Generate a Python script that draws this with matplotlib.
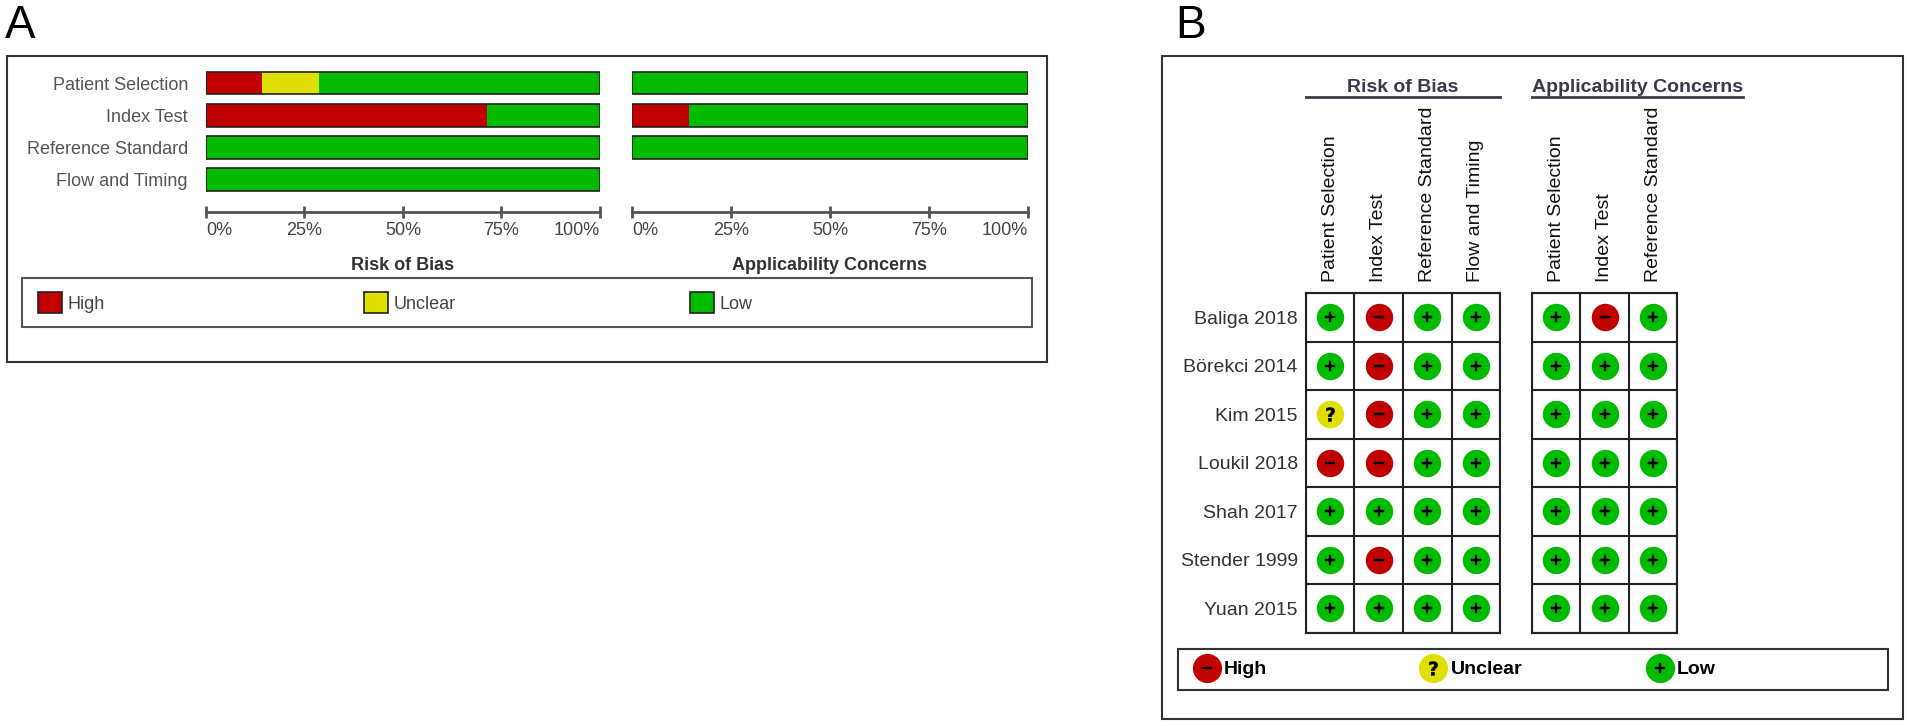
import matplotlib.pyplot as plt
import numpy as np
from matplotlib.patches import Patch, Rectangle
from matplotlib.lines import Line2D

plt.rcParams['font.family'] = ['Liberation Sans', 'DejaVu Sans']

# QUADAS-2 judgements, one row per study
studies = ['Baliga 2018', 'Börekci 2014', 'Kim 2015', 'Loukil 2018',
           'Shah 2017', 'Stender 1999', 'Yuan 2015']
rob_domains = ['Patient Selection', 'Index Test', 'Reference Standard', 'Flow and Timing']
app_domains = ['Patient Selection', 'Index Test', 'Reference Standard']
rob_judgements = [
    ['L', 'H', 'L', 'L'],
    ['L', 'H', 'L', 'L'],
    ['U', 'H', 'L', 'L'],
    ['H', 'H', 'L', 'L'],
    ['L', 'L', 'L', 'L'],
    ['L', 'H', 'L', 'L'],
    ['L', 'L', 'L', 'L'],
]
app_judgements = [
    ['L', 'H', 'L'],
    ['L', 'L', 'L'],
    ['L', 'L', 'L'],
    ['L', 'L', 'L'],
    ['L', 'L', 'L'],
    ['L', 'L', 'L'],
    ['L', 'L', 'L'],
]
level_codes = ['H', 'U', 'L']
level_names = ['High', 'Unclear', 'Low']
pct_ticks = [0, 25, 50, 75, 100]

colors = {'H': '#c00000', 'U': '#e0e000', 'L': '#00bb00'}
symbols = {'H': r'$\mathbf{-}$', 'U': r'$\mathbf{?}$', 'L': r'$\mathbf{+}$'}
sym_size = {'H': 7, 'U': 10, 'L': 7}

W, H = 1908, 726
fig = plt.figure(figsize=(W / 100, H / 100), dpi=100)


def px_box(x0, y0, x1, y1):
    # pixel box (top-left origin) -> figure fraction rect
    return [x0 / W, 1 - y1 / H, (x1 - x0) / W, (y1 - y0) / H]


# frames and panel letters
bg = fig.add_axes([0, 0, 1, 1], zorder=-1)
bg.set_xlim(0, W)
bg.set_ylim(H, 0)
bg.axis('off')
bg.add_patch(Rectangle((7, 56), 1040, 306, fill=False, ec='#333', lw=1.5))
bg.add_patch(Rectangle((1162, 56), 741, 663, fill=False, ec='#333', lw=1.5))
bg.add_patch(Rectangle((22, 278), 1010, 49, fill=False, ec='#555', lw=1.5))
bg.add_patch(Rectangle((1178, 649), 710, 41, fill=False, ec='#333', lw=1.5))
bg.text(5, 38, 'A', fontsize=33)
bg.text(1175, 38, 'B', fontsize=33)


def summary_axes(x0, x1, title, domains, judgements, show_labels):
    row = 32.3
    top = 83 - row / 2
    ax = fig.add_axes(px_box(x0, top, x1, top + 4 * row))
    ax.set_facecolor('none')
    data = np.array(judgements)
    y = np.arange(len(domains))
    left = np.zeros(len(domains))
    for code in level_codes:
        pct = (data == code).mean(axis=0) * 100
        ax.barh(y, pct, left=left, height=0.71, color=colors[code], lw=0)
        left += pct
    ax.barh(y, left, height=0.71, fill=False, edgecolor='#222', lw=1.2)
    ax.set_xlim(0, 100)
    ax.set_ylim(3.5, -0.5)
    ax.set_xticks(pct_ticks, [f'{t}%' for t in pct_ticks])
    if show_labels:
        ax.set_yticks(y, domains)
    else:
        ax.set_yticks([])
    for side in ['top', 'right', 'left']:
        ax.spines[side].set_visible(False)
    ax.spines['bottom'].set_position(('outward', 11.5))
    ax.spines['bottom'].set_linewidth(2)
    ax.spines['bottom'].set_color('#555')
    ax.tick_params(axis='x', direction='inout', length=8, width=2, color='#555',
                   labelsize=13, labelcolor='#444', pad=3)
    ax.tick_params(axis='y', length=0, labelsize=13, labelcolor='#555', pad=13)
    ax.set_xlabel(title, fontsize=13, fontweight='bold', color='#333', labelpad=13)
    return ax


sum_axes = [summary_axes(206, 600, 'Risk of Bias', rob_domains, rob_judgements, True),
            summary_axes(632, 1028, 'Applicability Concerns', app_domains, app_judgements, False)]


cell = 48.5
grid_top = 293
headers = []


def grid_axes(x0, header, domains, judgements, show_studies):
    ncol = len(domains)
    nrow = len(studies)
    hgt = nrow * cell
    ax = fig.add_axes(px_box(x0, grid_top, x0 + ncol * cell, grid_top + hgt))
    ax.set_facecolor('none')
    data = np.array(judgements)
    for code in level_codes:
        rows, cols = np.nonzero(data == code)
        ax.scatter(cols, rows, s=390, color=colors[code], lw=0, zorder=3)
        ax.scatter(cols, rows, s=sym_size[code] ** 2, marker=symbols[code],
                   color='k', lw=0.3, zorder=4)
    ax.set_xlim(-0.5, ncol - 0.5)
    ax.set_ylim(nrow - 0.5, -0.5)
    ax.set_xticks(range(ncol), domains, rotation=90, fontsize=14, color='#111')
    ax.set_xticks(np.arange(-0.5, ncol), minor=True)
    ax.set_yticks(range(nrow), studies if show_studies else [], fontsize=14, color='#333')
    ax.set_yticks(np.arange(-0.5, nrow), minor=True)
    ax.grid(which='minor', color='#222', lw=1.5)
    ax.tick_params(which='both', length=0)
    ax.tick_params(axis='x', top=True, bottom=False, labeltop=True, labelbottom=False, pad=8)
    ax.tick_params(axis='y', pad=6)
    for s in ax.spines.values():
        s.set_color('#222')
        s.set_linewidth(1.5)
    t = ax.text(0.5, (grid_top + hgt - 87) / hgt, header,
                transform=ax.transAxes, ha='center', va='center',
                fontsize=14, fontweight='bold', color='#3a3a4a')
    headers.append((ax, t, (grid_top + hgt - 97) / hgt))
    return ax


grid_axes(1306, 'Risk of Bias', rob_domains, rob_judgements, True)
grid_axes(1532, 'Applicability Concerns', app_domains, app_judgements, False)

fig.canvas.draw()

# end tick labels sit inside the axis ends
for ax in sum_axes:
    lbls = ax.get_xticklabels()
    lbls[0].set_ha('left')
    lbls[-1].set_ha('right')

for ax, t, yline in headers:
    bb = t.get_window_extent().transformed(ax.transAxes.inverted())
    if bb.width > 1:
        t.set_ha('left')
        t.set_x(0)
        x_end = bb.width
    else:
        x_end = 1
    ax.plot([0, x_end], [yline, yline], transform=ax.transAxes, clip_on=False,
            color='#3a3a4a', lw=2)

# legends: one entry per level, evenly spaced inside the frames
for i, code in enumerate(level_codes):
    fig.legend([Patch(facecolor=colors[code], edgecolor='#222', lw=1.2)], [level_names[i]],
               loc='center left', bbox_to_anchor=((38 + 326 * i) / W, 1 - 302.5 / H),
               frameon=False, borderpad=0, borderaxespad=0, fontsize=13,
               labelcolor='#444', handlelength=1.35, handleheight=1.35, handletextpad=0.3)

    handle = (Line2D([], [], ls='none', marker='o', ms=20, mfc=colors[code], mec=colors[code]),
              Line2D([], [], ls='none', marker=symbols[code], ms=sym_size[code],
                     color='k', mew=0.3))
    fig.legend([handle], [level_names[i]], loc='center left',
               bbox_to_anchor=((1193 + 226.5 * i) / W, 1 - 669.5 / H),
               frameon=False, borderpad=0, borderaxespad=0,
               prop={'size': 14, 'weight': 'bold'}, handlelength=1.44, handletextpad=0.15)

fig.savefig('out.png', dpi=100)
